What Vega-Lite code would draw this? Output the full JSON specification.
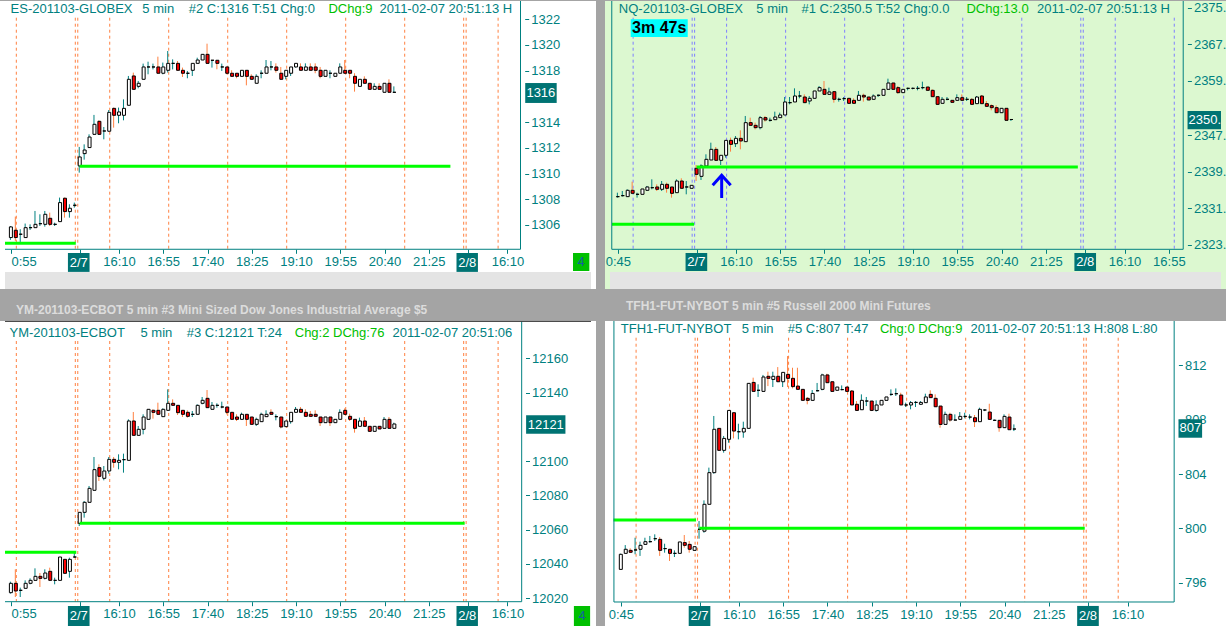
{
"$schema": "https://vega.github.io/schema/vega-lite/v6.json",
"background": "#a4a4a4",
"padding": 0,
"bounds": "flush",
"columns": 2,
"spacing": {"row": 32, "column": 9},
"config": {
  "view": {"stroke": null},
  "axis": {"labelFont": "Liberation Sans", "labelFontSize": 13, "labelColor": "#008080", "tickColor": "#008080", "tickSize": 4, "domain": false, "grid": false, "labelPadding": 2, "labelOverlap": false},
  "text": {"font": "Liberation Sans", "fontSize": 13},
  "title": {"font": "Liberation Sans"}
},
"datasets": {
  "hours": [{"i": -13}, {"i": -1}, {"i": -0.5}, {"i": 6}, {"i": 18}, {"i": 30}, {"i": 42}, {"i": 54}, {"i": 66}, {"i": 78}, {"i": 78.5}, {"i": 85}, {"i": 97}],
  "lv_tl": [{"a": 0, "b": 75.4, "p": 1310.57}, {"a": -15.2, "b": -0.8, "p": 1304.58}],
  "lv_tr": [{"a": 0, "b": 77.5, "p": 2340.09}, {"a": -17.2, "b": -0.5, "p": 2327.53}],
  "lv_bl": [{"a": 0, "b": 78.3, "p": 12063.73}, {"a": -15.2, "b": -0.7, "p": 12046.8}],
  "lv_br": [{"a": 0, "b": 78.3, "p": 800.02}, {"a": -17.5, "b": -0.7, "p": 800.63}],
  "tl": [
{"i":-14,"o":1305.02,"h":1305.92,"l":1304.84,"c":1305.85},
{"i":-13,"o":1305.59,"h":1306.65,"l":1304.76,"c":1305.02},
{"i":-12,"o":1305.28,"h":1305.67,"l":1304.68,"c":1305.28},
{"i":-11,"o":1305.02,"h":1306.11,"l":1305.02,"c":1305.79},
{"i":-10,"o":1305.79,"h":1306.05,"l":1305.61,"c":1305.79},
{"i":-9,"o":1305.79,"h":1307.09,"l":1305.79,"c":1306.05},
{"i":-8,"o":1306.1,"h":1306.83,"l":1305.92,"c":1306.1},
{"i":-7,"o":1306.05,"h":1307.09,"l":1305.87,"c":1306.83},
{"i":-6,"o":1306.52,"h":1306.96,"l":1305.92,"c":1306.05},
{"i":-5,"o":1306.05,"h":1306.18,"l":1305.92,"c":1306.05},
{"i":-4,"o":1306.26,"h":1308.13,"l":1306.26,"c":1307.74},
{"i":-3,"o":1308.08,"h":1308.13,"l":1306.57,"c":1307.04},
{"i":-2,"o":1307.04,"h":1307.61,"l":1306.57,"c":1307.3},
{"i":-1,"o":1307.53,"h":1307.74,"l":1307.35,"c":1307.53},
{"i":0,"o":1310.59,"h":1312.07,"l":1310.07,"c":1311.29},
{"i":1,"o":1311.55,"h":1312.27,"l":1311.08,"c":1311.83},
{"i":2,"o":1312.02,"h":1313.05,"l":1312.02,"c":1312.84},
{"i":3,"o":1313.05,"h":1314.56,"l":1313.0,"c":1313.83},
{"i":4,"o":1314.06,"h":1314.14,"l":1313.0,"c":1313.05},
{"i":5,"o":1313.31,"h":1313.62,"l":1312.66,"c":1313.31},
{"i":6,"o":1313.29,"h":1314.94,"l":1313.29,"c":1314.76},
{"i":7,"o":1315.07,"h":1315.13,"l":1313.57,"c":1314.53},
{"i":8,"o":1314.53,"h":1315.13,"l":1313.91,"c":1314.79},
{"i":9,"o":1314.53,"h":1315.77,"l":1314.14,"c":1315.07},
{"i":10,"o":1315.31,"h":1317.59,"l":1315.31,"c":1317.33},
{"i":11,"o":1317.59,"h":1317.85,"l":1316.55,"c":1316.55},
{"i":12,"o":1316.78,"h":1317.2,"l":1316.63,"c":1317.02},
{"i":13,"o":1317.33,"h":1318.55,"l":1317.33,"c":1318.29},
{"i":14,"o":1318.29,"h":1318.7,"l":1317.72,"c":1318.29},
{"i":15,"o":1318.29,"h":1318.55,"l":1318.1,"c":1318.29},
{"i":16,"o":1318.29,"h":1319.09,"l":1317.8,"c":1317.8},
{"i":17,"o":1317.8,"h":1318.63,"l":1317.72,"c":1318.29},
{"i":18,"o":1318.03,"h":1319.53,"l":1317.85,"c":1318.57},
{"i":19,"o":1318.57,"h":1318.88,"l":1318.1,"c":1318.57},
{"i":20,"o":1318.57,"h":1318.75,"l":1318.03,"c":1318.03},
{"i":21,"o":1318.03,"h":1318.24,"l":1317.51,"c":1317.8},
{"i":22,"o":1317.8,"h":1317.98,"l":1317.41,"c":1317.8},
{"i":23,"o":1318.03,"h":1318.57,"l":1317.59,"c":1318.57},
{"i":24,"o":1318.57,"h":1319.01,"l":1318.57,"c":1318.83},
{"i":25,"o":1318.83,"h":1319.27,"l":1318.83,"c":1319.27},
{"i":26,"o":1319.27,"h":1320.1,"l":1318.57,"c":1318.57},
{"i":27,"o":1318.81,"h":1318.81,"l":1318.24,"c":1318.81},
{"i":28,"o":1318.81,"h":1318.81,"l":1318.11,"c":1318.57},
{"i":29,"o":1318.29,"h":1318.55,"l":1317.98,"c":1318.29},
{"i":30,"o":1318.29,"h":1318.29,"l":1317.72,"c":1317.8},
{"i":31,"o":1317.8,"h":1318.03,"l":1317.56,"c":1317.56},
{"i":32,"o":1317.8,"h":1317.8,"l":1317.41,"c":1317.56},
{"i":33,"o":1317.56,"h":1318.03,"l":1317.56,"c":1318.03},
{"i":34,"o":1318.03,"h":1318.03,"l":1316.86,"c":1317.56},
{"i":35,"o":1317.56,"h":1317.72,"l":1317.33,"c":1317.33},
{"i":36,"o":1317.02,"h":1317.72,"l":1317.02,"c":1317.56},
{"i":37,"o":1317.8,"h":1318.03,"l":1317.41,"c":1317.8},
{"i":38,"o":1317.8,"h":1318.83,"l":1317.8,"c":1318.29},
{"i":39,"o":1318.29,"h":1318.75,"l":1318.03,"c":1318.29},
{"i":40,"o":1318.29,"h":1318.57,"l":1317.85,"c":1318.03},
{"i":41,"o":1317.8,"h":1318.29,"l":1317.33,"c":1317.33},
{"i":42,"o":1317.56,"h":1318.03,"l":1317.33,"c":1318.03},
{"i":43,"o":1317.8,"h":1318.29,"l":1317.59,"c":1318.29},
{"i":44,"o":1318.29,"h":1318.57,"l":1318.24,"c":1318.57},
{"i":45,"o":1318.29,"h":1318.57,"l":1318.03,"c":1318.03},
{"i":46,"o":1318.03,"h":1318.57,"l":1318.03,"c":1318.29},
{"i":47,"o":1318.29,"h":1318.57,"l":1318.03,"c":1318.03},
{"i":48,"o":1318.29,"h":1318.57,"l":1317.8,"c":1318.03},
{"i":49,"o":1318.03,"h":1318.29,"l":1317.41,"c":1317.56},
{"i":50,"o":1317.56,"h":1318.03,"l":1317.56,"c":1318.03},
{"i":51,"o":1317.8,"h":1318.03,"l":1317.41,"c":1317.8},
{"i":52,"o":1317.56,"h":1317.8,"l":1317.56,"c":1317.8},
{"i":53,"o":1317.8,"h":1318.57,"l":1317.8,"c":1318.29},
{"i":54,"o":1318.03,"h":1318.83,"l":1317.8,"c":1317.8},
{"i":55,"o":1318.03,"h":1318.03,"l":1317.41,"c":1317.8},
{"i":56,"o":1317.56,"h":1317.8,"l":1316.37,"c":1317.02},
{"i":57,"o":1316.78,"h":1317.33,"l":1316.78,"c":1317.33},
{"i":58,"o":1317.33,"h":1317.56,"l":1317.02,"c":1317.02},
{"i":59,"o":1317.02,"h":1317.02,"l":1316.55,"c":1316.55},
{"i":60,"o":1316.55,"h":1317.02,"l":1316.55,"c":1316.78},
{"i":61,"o":1316.78,"h":1317.02,"l":1316.55,"c":1316.55},
{"i":62,"o":1316.32,"h":1317.02,"l":1316.32,"c":1317.02},
{"i":63,"o":1317.02,"h":1317.33,"l":1316.32,"c":1316.32},
{"i":64,"o":1316.32,"h":1316.78,"l":1316.32,"c":1316.32}
  ],
  "tr": [
{"i":-16,"o":2333.59,"h":2334.46,"l":2333.37,"c":2333.59},
{"i":-15,"o":2333.81,"h":2334.83,"l":2333.6,"c":2333.81},
{"i":-14,"o":2333.59,"h":2335.2,"l":2333.59,"c":2334.98},
{"i":-13,"o":2334.98,"h":2336.87,"l":2334.32,"c":2334.32},
{"i":-12,"o":2334.1,"h":2334.46,"l":2333.37,"c":2334.1},
{"i":-11,"o":2334.1,"h":2335.27,"l":2334.1,"c":2335.27},
{"i":-10,"o":2334.98,"h":2335.93,"l":2334.83,"c":2335.71},
{"i":-9,"o":2335.56,"h":2337.39,"l":2335.2,"c":2335.56},
{"i":-8,"o":2335.71,"h":2336.29,"l":2334.83,"c":2335.2},
{"i":-7,"o":2335.2,"h":2337.02,"l":2334.83,"c":2336.29},
{"i":-6,"o":2336.29,"h":2336.66,"l":2334.46,"c":2335.42},
{"i":-5,"o":2335.71,"h":2335.71,"l":2333.37,"c":2334.32},
{"i":-4,"o":2334.46,"h":2337.39,"l":2334.46,"c":2337.02},
{"i":-3,"o":2337.02,"h":2337.61,"l":2335.42,"c":2335.42},
{"i":-2,"o":2335.71,"h":2337.02,"l":2334.1,"c":2335.71},
{"i":-1,"o":2335.42,"h":2336.07,"l":2335.42,"c":2336.07},
{"i":0,"o":2339.8,"h":2340.53,"l":2337.02,"c":2338.48},
{"i":1,"o":2338.04,"h":2340.67,"l":2337.24,"c":2340.31},
{"i":2,"o":2340.31,"h":2342.87,"l":2340.31,"c":2341.77},
{"i":3,"o":2341.62,"h":2345.42,"l":2341.62,"c":2343.96},
{"i":4,"o":2343.96,"h":2344.47,"l":2341.55,"c":2341.55},
{"i":5,"o":2341.55,"h":2342.65,"l":2340.53,"c":2342.65},
{"i":6,"o":2342.65,"h":2345.93,"l":2342.14,"c":2345.93},
{"i":7,"o":2345.93,"h":2346.52,"l":2343.45,"c":2345.06},
{"i":8,"o":2345.2,"h":2346.88,"l":2344.47,"c":2346.37},
{"i":9,"o":2346.37,"h":2348.13,"l":2343.96,"c":2345.79},
{"i":10,"o":2345.64,"h":2351.27,"l":2345.64,"c":2349.81},
{"i":11,"o":2349.81,"h":2350.9,"l":2349.22,"c":2349.22},
{"i":12,"o":2349.22,"h":2349.81,"l":2348.34,"c":2348.71},
{"i":13,"o":2348.71,"h":2351.27,"l":2348.34,"c":2350.9},
{"i":14,"o":2350.9,"h":2351.27,"l":2350.03,"c":2350.39},
{"i":15,"o":2350.32,"h":2350.9,"l":2350.03,"c":2350.32},
{"i":16,"o":2350.46,"h":2352.22,"l":2350.46,"c":2351.05},
{"i":17,"o":2350.9,"h":2352.0,"l":2350.9,"c":2351.49},
{"i":18,"o":2351.49,"h":2355.43,"l":2351.49,"c":2354.34},
{"i":19,"o":2354.19,"h":2355.43,"l":2353.82,"c":2354.19},
{"i":20,"o":2354.34,"h":2357.33,"l":2354.34,"c":2355.65},
{"i":21,"o":2355.65,"h":2356.75,"l":2355.14,"c":2355.65},
{"i":22,"o":2355.43,"h":2356.01,"l":2354.19,"c":2354.19},
{"i":23,"o":2354.55,"h":2355.65,"l":2353.82,"c":2355.14},
{"i":24,"o":2355.14,"h":2356.75,"l":2355.14,"c":2356.75},
{"i":25,"o":2356.75,"h":2357.84,"l":2356.75,"c":2357.48},
{"i":26,"o":2357.11,"h":2358.94,"l":2356.01,"c":2356.01},
{"i":27,"o":2356.01,"h":2357.48,"l":2356.01,"c":2356.53},
{"i":28,"o":2356.6,"h":2356.6,"l":2354.19,"c":2354.92},
{"i":29,"o":2354.92,"h":2355.28,"l":2354.41,"c":2354.92},
{"i":30,"o":2355.07,"h":2355.43,"l":2354.55,"c":2355.07},
{"i":31,"o":2355.14,"h":2355.14,"l":2354.04,"c":2354.04},
{"i":32,"o":2354.7,"h":2355.14,"l":2354.04,"c":2354.04},
{"i":33,"o":2354.7,"h":2356.75,"l":2354.7,"c":2355.8},
{"i":34,"o":2355.8,"h":2356.16,"l":2354.41,"c":2355.43},
{"i":35,"o":2355.43,"h":2355.43,"l":2354.77,"c":2354.77},
{"i":36,"o":2354.92,"h":2356.01,"l":2354.92,"c":2355.65},
{"i":37,"o":2355.8,"h":2356.01,"l":2355.43,"c":2355.8},
{"i":38,"o":2355.8,"h":2357.11,"l":2355.8,"c":2357.11},
{"i":39,"o":2357.11,"h":2359.45,"l":2357.11,"c":2358.5},
{"i":40,"o":2358.5,"h":2358.5,"l":2357.11,"c":2357.11},
{"i":41,"o":2357.48,"h":2357.84,"l":2356.16,"c":2356.38},
{"i":42,"o":2356.38,"h":2357.11,"l":2356.38,"c":2357.11},
{"i":43,"o":2357.33,"h":2357.48,"l":2356.89,"c":2357.33},
{"i":44,"o":2357.33,"h":2357.48,"l":2357.11,"c":2357.33},
{"i":45,"o":2357.33,"h":2357.84,"l":2356.89,"c":2357.33},
{"i":46,"o":2357.48,"h":2358.79,"l":2357.11,"c":2357.48},
{"i":47,"o":2357.62,"h":2357.62,"l":2356.89,"c":2356.89},
{"i":48,"o":2356.89,"h":2357.11,"l":2355.5,"c":2355.5},
{"i":49,"o":2355.5,"h":2355.5,"l":2353.68,"c":2353.82},
{"i":50,"o":2354.04,"h":2355.43,"l":2354.04,"c":2354.92},
{"i":51,"o":2354.92,"h":2355.43,"l":2354.7,"c":2354.92},
{"i":52,"o":2354.7,"h":2354.7,"l":2354.26,"c":2354.26},
{"i":53,"o":2354.7,"h":2356.01,"l":2354.7,"c":2355.28},
{"i":54,"o":2355.28,"h":2356.01,"l":2354.7,"c":2354.7},
{"i":55,"o":2354.92,"h":2355.43,"l":2354.55,"c":2354.92},
{"i":56,"o":2354.92,"h":2355.14,"l":2353.82,"c":2353.82},
{"i":57,"o":2353.97,"h":2355.65,"l":2353.97,"c":2355.43},
{"i":58,"o":2355.65,"h":2355.87,"l":2353.97,"c":2353.97},
{"i":59,"o":2353.97,"h":2354.55,"l":2353.38,"c":2353.38},
{"i":60,"o":2353.53,"h":2353.82,"l":2352.51,"c":2353.09},
{"i":61,"o":2353.09,"h":2353.6,"l":2351.99,"c":2351.99},
{"i":62,"o":2351.99,"h":2352.95,"l":2351.99,"c":2352.95},
{"i":63,"o":2352.95,"h":2352.95,"l":2350.32,"c":2350.32},
{"i":64,"o":2350.5,"h":2350.53,"l":2350.17,"c":2350.5}
  ],
  "bl": [
{"i":-14,"o":12023.26,"h":12029.68,"l":12022.68,"c":12028.71},
{"i":-13,"o":12028.71,"h":12036.88,"l":12020.73,"c":12024.24},
{"i":-12,"o":12024.63,"h":12026.2,"l":12020.73,"c":12024.63},
{"i":-11,"o":12025.79,"h":12030.45,"l":12025.79,"c":12028.71},
{"i":-10,"o":12028.71,"h":12031.62,"l":12028.12,"c":12030.45},
{"i":-9,"o":12030.45,"h":12037.46,"l":12030.45,"c":12032.79},
{"i":-8,"o":12032.79,"h":12034.73,"l":12026.57,"c":12031.62},
{"i":-7,"o":12031.62,"h":12036.88,"l":12031.0,"c":12034.73},
{"i":-6,"o":12035.71,"h":12037.85,"l":12030.45,"c":12030.45},
{"i":-5,"o":12030.45,"h":12032.0,"l":12028.12,"c":12030.45},
{"i":-4,"o":12030.45,"h":12044.07,"l":12030.45,"c":12044.07},
{"i":-3,"o":12042.71,"h":12042.71,"l":12034.54,"c":12034.54},
{"i":-2,"o":12035.71,"h":12043.68,"l":12032.01,"c":12042.71},
{"i":-1,"o":12044.07,"h":12046.6,"l":12043.7,"c":12044.07},
{"i":0,"o":12063.71,"h":12070.13,"l":12062.16,"c":12070.13},
{"i":1,"o":12070.13,"h":12076.75,"l":12067.02,"c":12075.97},
{"i":2,"o":12075.97,"h":12085.5,"l":12075.97,"c":12084.13},
{"i":3,"o":12082.97,"h":12102.42,"l":12082.97,"c":12095.03},
{"i":4,"o":12096.19,"h":12098.14,"l":12088.41,"c":12091.14},
{"i":5,"o":12089.97,"h":12097.16,"l":12088.8,"c":12094.25},
{"i":6,"o":12094.25,"h":12102.42,"l":12092.69,"c":12101.05},
{"i":7,"o":12101.05,"h":12102.42,"l":12096.19,"c":12099.3},
{"i":8,"o":12099.3,"h":12103.97,"l":12095.22,"c":12100.47},
{"i":9,"o":12100.86,"h":12104.36,"l":12093.27,"c":12100.86},
{"i":10,"o":12100.47,"h":12124.39,"l":12100.47,"c":12123.42},
{"i":11,"o":12123.42,"h":12128.67,"l":12115.05,"c":12115.05},
{"i":12,"o":12115.05,"h":12120.5,"l":12115.05,"c":12118.56},
{"i":13,"o":12118.56,"h":12127.31,"l":12115.64,"c":12125.75},
{"i":14,"o":12124.39,"h":12130.23,"l":12124.39,"c":12130.23},
{"i":15,"o":12129.64,"h":12130.23,"l":12124.78,"c":12128.48},
{"i":16,"o":12129.64,"h":12134.11,"l":12127.31,"c":12127.31},
{"i":17,"o":12125.95,"h":12130.81,"l":12125.95,"c":12130.23},
{"i":18,"o":12129.64,"h":12141.89,"l":12129.64,"c":12133.73},
{"i":19,"o":12133.73,"h":12136.06,"l":12132.56,"c":12132.56},
{"i":20,"o":12132.56,"h":12132.56,"l":12126.92,"c":12128.28},
{"i":21,"o":12129.64,"h":12129.64,"l":12125.75,"c":12127.31},
{"i":22,"o":12128.48,"h":12129.64,"l":12125.36,"c":12126.14},
{"i":23,"o":12127.31,"h":12129.25,"l":12125.75,"c":12127.31},
{"i":24,"o":12127.31,"h":12133.14,"l":12127.31,"c":12132.56},
{"i":25,"o":12133.73,"h":12137.42,"l":12133.14,"c":12135.48},
{"i":26,"o":12136.64,"h":12141.5,"l":12131.2,"c":12131.2},
{"i":27,"o":12130.23,"h":12134.5,"l":12130.23,"c":12132.56},
{"i":28,"o":12132.56,"h":12133.73,"l":12131.2,"c":12132.56},
{"i":29,"o":12131.59,"h":12134.7,"l":12130.81,"c":12131.59},
{"i":30,"o":12131.59,"h":12131.59,"l":12127.31,"c":12128.48},
{"i":31,"o":12128.48,"h":12128.48,"l":12124.39,"c":12124.39},
{"i":32,"o":12125.75,"h":12127.31,"l":12123.42,"c":12124.39},
{"i":33,"o":12124.39,"h":12128.28,"l":12124.39,"c":12127.31},
{"i":34,"o":12127.31,"h":12127.31,"l":12120.5,"c":12124.39},
{"i":35,"o":12125.75,"h":12125.75,"l":12121.47,"c":12121.47},
{"i":36,"o":12121.47,"h":12125.36,"l":12120.5,"c":12124.39},
{"i":37,"o":12123.03,"h":12128.28,"l":12123.03,"c":12127.31},
{"i":38,"o":12125.95,"h":12129.64,"l":12125.95,"c":12127.31},
{"i":39,"o":12128.48,"h":12130.23,"l":12127.31,"c":12127.31},
{"i":40,"o":12125.95,"h":12127.31,"l":12123.81,"c":12125.95},
{"i":41,"o":12125.75,"h":12125.75,"l":12119.14,"c":12119.92},
{"i":42,"o":12120.11,"h":12123.42,"l":12120.11,"c":12123.42},
{"i":43,"o":12123.03,"h":12128.48,"l":12121.86,"c":12128.48},
{"i":44,"o":12128.48,"h":12131.59,"l":12128.48,"c":12130.23},
{"i":45,"o":12130.23,"h":12131.59,"l":12128.48,"c":12128.48},
{"i":46,"o":12128.48,"h":12130.23,"l":12126.14,"c":12126.14},
{"i":47,"o":12127.31,"h":12129.25,"l":12126.14,"c":12126.14},
{"i":48,"o":12127.31,"h":12129.64,"l":12126.14,"c":12126.14},
{"i":49,"o":12125.75,"h":12125.75,"l":12120.5,"c":12122.45},
{"i":50,"o":12122.45,"h":12125.75,"l":12122.45,"c":12125.75},
{"i":51,"o":12125.75,"h":12125.75,"l":12120.5,"c":12122.45},
{"i":52,"o":12122.45,"h":12124.39,"l":12122.45,"c":12124.39},
{"i":53,"o":12124.39,"h":12130.23,"l":12124.39,"c":12128.48},
{"i":54,"o":12129.64,"h":12130.81,"l":12127.31,"c":12127.31},
{"i":55,"o":12126.14,"h":12127.7,"l":12123.42,"c":12124.39},
{"i":56,"o":12124.39,"h":12124.39,"l":12116.61,"c":12119.14},
{"i":57,"o":12120.31,"h":12125.36,"l":12120.31,"c":12123.42},
{"i":58,"o":12123.42,"h":12125.75,"l":12120.31,"c":12120.31},
{"i":59,"o":12120.31,"h":12120.31,"l":12117.39,"c":12117.39},
{"i":60,"o":12117.39,"h":12120.31,"l":12117.39,"c":12120.31},
{"i":61,"o":12120.31,"h":12120.31,"l":12118.75,"c":12118.75},
{"i":62,"o":12119.14,"h":12125.75,"l":12119.14,"c":12124.39},
{"i":63,"o":12124.39,"h":12125.75,"l":12119.14,"c":12119.14},
{"i":64,"o":12119.14,"h":12122.45,"l":12119.14,"c":12121.67}
  ],
  "br": [
{"i":-16,"o":796.99,"h":798.15,"l":796.99,"c":798.1},
{"i":-15,"o":798.17,"h":798.78,"l":798.17,"c":798.47},
{"i":-14,"o":798.39,"h":798.54,"l":798.2,"c":798.25},
{"i":-13,"o":798.42,"h":799.32,"l":798.1,"c":798.42},
{"i":-12,"o":798.47,"h":799.03,"l":797.98,"c":798.76},
{"i":-11,"o":798.83,"h":799.32,"l":798.83,"c":799.03},
{"i":-10,"o":799.03,"h":799.45,"l":798.96,"c":799.03},
{"i":-9,"o":799.25,"h":799.57,"l":799.08,"c":799.25},
{"i":-8,"o":799.2,"h":799.37,"l":797.98,"c":798.39},
{"i":-7,"o":798.52,"h":798.88,"l":798.22,"c":798.52},
{"i":-6,"o":798.47,"h":798.47,"l":797.61,"c":798.17},
{"i":-5,"o":798.17,"h":798.39,"l":797.9,"c":798.17},
{"i":-4,"o":798.17,"h":799.01,"l":798.17,"c":799.01},
{"i":-3,"o":798.96,"h":799.52,"l":798.59,"c":798.76},
{"i":-2,"o":798.83,"h":799.08,"l":798.22,"c":798.47},
{"i":-1,"o":798.39,"h":798.66,"l":798.39,"c":798.66},
{"i":0,"o":799.94,"h":800.55,"l":799.25,"c":799.94},
{"i":1,"o":799.8,"h":802.07,"l":799.69,"c":801.78},
{"i":2,"o":801.78,"h":804.48,"l":801.78,"c":804.11},
{"i":3,"o":804.11,"h":808.28,"l":804.03,"c":807.3},
{"i":4,"o":807.37,"h":807.37,"l":805.75,"c":805.75},
{"i":5,"o":805.75,"h":806.81,"l":805.58,"c":806.63},
{"i":6,"o":806.56,"h":808.69,"l":806.31,"c":808.69},
{"i":7,"o":808.52,"h":808.52,"l":806.63,"c":807.17},
{"i":8,"o":807.12,"h":807.71,"l":806.56,"c":807.12},
{"i":9,"o":807.1,"h":807.86,"l":806.68,"c":807.37},
{"i":10,"o":807.37,"h":810.68,"l":807.37,"c":810.68},
{"i":11,"o":810.75,"h":811.1,"l":810.09,"c":810.09},
{"i":12,"o":810.17,"h":810.61,"l":809.68,"c":810.17},
{"i":13,"o":810.09,"h":811.3,"l":810.09,"c":811.15},
{"i":14,"o":811.2,"h":811.54,"l":810.48,"c":811.05},
{"i":15,"o":810.97,"h":811.54,"l":810.41,"c":811.2},
{"i":16,"o":811.2,"h":811.88,"l":810.8,"c":810.8},
{"i":17,"o":810.8,"h":811.49,"l":810.41,"c":811.49},
{"i":18,"o":811.34,"h":812.69,"l":810.41,"c":811.05},
{"i":19,"o":811.05,"h":811.83,"l":810.31,"c":810.44},
{"i":20,"o":810.48,"h":811.83,"l":810.24,"c":810.24},
{"i":21,"o":810.24,"h":810.24,"l":809.43,"c":809.43},
{"i":22,"o":809.58,"h":809.68,"l":809.14,"c":809.43},
{"i":23,"o":809.43,"h":810.19,"l":809.43,"c":809.94},
{"i":24,"o":810.14,"h":810.71,"l":810.07,"c":810.14},
{"i":25,"o":810.24,"h":811.39,"l":810.17,"c":811.3},
{"i":26,"o":811.3,"h":811.39,"l":810.73,"c":810.73},
{"i":27,"o":810.8,"h":810.8,"l":810.09,"c":810.09},
{"i":28,"o":810.17,"h":810.41,"l":810.17,"c":810.41},
{"i":29,"o":810.22,"h":810.53,"l":810.17,"c":810.22},
{"i":30,"o":810.41,"h":810.41,"l":810.09,"c":810.09},
{"i":31,"o":810.12,"h":810.17,"l":809.09,"c":809.09},
{"i":32,"o":809.14,"h":809.38,"l":808.69,"c":808.69},
{"i":33,"o":808.74,"h":809.87,"l":808.74,"c":809.43},
{"i":34,"o":809.38,"h":809.68,"l":809.01,"c":809.38},
{"i":35,"o":809.38,"h":809.38,"l":808.64,"c":808.69},
{"i":36,"o":808.69,"h":809.43,"l":808.6,"c":809.09},
{"i":37,"o":809.09,"h":809.43,"l":809.09,"c":809.43},
{"i":38,"o":809.43,"h":809.68,"l":809.43,"c":809.68},
{"i":39,"o":809.87,"h":810.24,"l":809.75,"c":809.87},
{"i":40,"o":809.92,"h":810.31,"l":809.75,"c":809.92},
{"i":41,"o":809.82,"h":809.99,"l":809.09,"c":809.09},
{"i":42,"o":809.09,"h":809.26,"l":808.94,"c":809.09},
{"i":43,"o":809.09,"h":809.38,"l":808.77,"c":809.26},
{"i":44,"o":809.28,"h":809.38,"l":808.94,"c":809.28},
{"i":45,"o":809.14,"h":809.38,"l":809.09,"c":809.28},
{"i":46,"o":809.26,"h":809.92,"l":809.26,"c":809.68},
{"i":47,"o":809.87,"h":810.17,"l":809.63,"c":809.63},
{"i":48,"o":809.58,"h":809.87,"l":808.96,"c":808.96},
{"i":49,"o":809.01,"h":809.01,"l":807.42,"c":807.66},
{"i":50,"o":807.66,"h":808.6,"l":807.66,"c":808.4},
{"i":51,"o":808.4,"h":808.52,"l":807.86,"c":807.98},
{"i":52,"o":807.98,"h":808.4,"l":807.98,"c":807.98},
{"i":53,"o":808.03,"h":808.57,"l":808.03,"c":808.25},
{"i":54,"o":808.25,"h":808.52,"l":808.11,"c":808.25},
{"i":55,"o":808.2,"h":808.4,"l":808.03,"c":808.2},
{"i":56,"o":808.15,"h":808.35,"l":807.47,"c":807.86},
{"i":57,"o":807.86,"h":808.89,"l":807.86,"c":808.77},
{"i":58,"o":808.72,"h":808.77,"l":808.64,"c":808.72},
{"i":59,"o":808.57,"h":809.18,"l":808.03,"c":808.03},
{"i":60,"o":807.96,"h":808.03,"l":807.91,"c":807.96},
{"i":61,"o":807.96,"h":807.96,"l":807.12,"c":807.42},
{"i":62,"o":807.42,"h":808.4,"l":807.42,"c":808.25},
{"i":63,"o":808.2,"h":808.45,"l":807.27,"c":807.27},
{"i":64,"o":807.32,"h":807.66,"l":807.17,"c":807.32}
  ]
},
"concat": [
{
 "width": 596, "height": 288,
 "view": {"fill": "#ffffff", "stroke": null},
 "layer": [
  {"data": {"name": "hours"}, "transform": [{"filter": "datum.i < 90"}],
   "mark": {"type": "rule", "color": "#ff8040", "strokeDash": [3, 3], "strokeWidth": 1, "xOffset": 0.5},
   "encoding": {
    "x": {"field": "i", "type": "quantitative", "scale": {"domain": [-15.2, 104.0], "nice": false, "zero": false},
          "axis": {"orient": "bottom", "offset": -39.7, "title": null, "labelFlush": 12, "labelOverlap": false,
                   "values": [-14, 0, 8, 17, 26, 35, 44, 53, 62, 71, 79, 87],
                   "labelExpr": "['0:55','','16:10','16:55','17:40','18:25','19:10','19:55','20:40','21:25','','16:10'][indexof([-14,0,8,17,26,35,44,53,62,71,79,87], datum.value)]"}},
    "y": {"datum": 1322.12, "type": "quantitative", "scale": {"domain": [1301.02, 1323.42], "nice": false, "zero": false},
          "axis": {"orient": "right", "offset": -71.3, "title": null, "format": "d", "labelOverlap": false, "values": [1306, 1308, 1310, 1312, 1314, 1318, 1320, 1322]}},
    "y2": {"datum": 1304.11}}},
  {"data": {"name": "tl"}, "mark": {"type": "rule", "strokeWidth": 1, "xOffset": -0.5},
   "encoding": {"x": {"field": "i", "type": "quantitative"}, "y": {"field": "l", "type": "quantitative"}, "y2": {"field": "h"},
    "color": {"condition": {"test": "datum.c < datum.o", "value": "#ff8040"}, "value": "#008080"}}},
  {"data": {"name": "tl"}, "mark": {"type": "bar", "size": 3, "stroke": "#000000", "strokeWidth": 1},
   "encoding": {"x": {"field": "i", "type": "quantitative"}, "y": {"field": "o", "type": "quantitative"}, "y2": {"field": "c"},
    "fill": {"condition": {"test": "datum.c < datum.o", "value": "#ff0000"}, "value": "#ffffff"}}},
  {"data": {"name": "lv_tl"}, "mark": {"type": "rule", "color": "#00ff00", "strokeWidth": 3},
   "encoding": {"x": {"field": "a", "type": "quantitative"}, "x2": {"field": "b"}, "y": {"field": "p", "type": "quantitative"}}},
  {"data": {"values": [{}]}, "mark": {"type": "rule", "color": "#008080"}, "encoding": {"x": {"datum": 89.66}, "y": {"datum": 1304.11}, "y2": {"datum": 1323.42}}},
  {"data": {"values": [{}]}, "mark": {"type": "rule", "color": "#008080"}, "encoding": {"x": {"datum": -15.2}, "x2": {"datum": 89.66}, "y": {"datum": 1304.11}}},
  {"data": {"values": [{}]}, "mark": {"type": "rect", "color": "#e4e4e4"}, "encoding": {"x": {"datum": -15.2}, "x2": {"datum": 104.0}, "y": {"datum": 1302.35}, "y2": {"datum": 1301.02}}},
  {"data": {"values": [{}]}, "mark": {"type": "text", "align": "left", "color": "#008080"}, "encoding": {"x": {"datum": -14.06}, "y": {"datum": 1322.77}, "text": {"value": "ES-201103-GLOBEX"}}},
  {"data": {"values": [{}]}, "mark": {"type": "text", "align": "left", "color": "#008080"}, "encoding": {"x": {"datum": 12.74}, "y": {"datum": 1322.77}, "text": {"value": "5 min"}}},
  {"data": {"values": [{}]}, "mark": {"type": "text", "align": "left", "color": "#008080"}, "encoding": {"x": {"datum": 22.16}, "y": {"datum": 1322.77}, "text": {"value": "#2 C:1316 T:51 Chg:0"}}},
  {"data": {"values": [{}]}, "mark": {"type": "text", "align": "left", "color": "#00c000"}, "encoding": {"x": {"datum": 50.6}, "y": {"datum": 1322.77}, "text": {"value": "DChg:9"}}},
  {"data": {"values": [{}]}, "mark": {"type": "text", "align": "left", "color": "#008080"}, "encoding": {"x": {"datum": 60.96}, "y": {"datum": 1322.77}, "text": {"value": "2011-02-07 20:51:13 H"}}},
  {"data": {"values": [{}]}, "mark": {"type": "rect", "color": "#007373"}, "encoding": {"x": {"datum": 90.62}, "x2": {"datum": 97.02}, "y": {"datum": 1317.04}, "y2": {"datum": 1315.49}}},
  {"data": {"values": [{}]}, "mark": {"type": "text", "color": "#ffffff"}, "encoding": {"x": {"datum": 93.8}, "y": {"datum": 1316.27}, "text": {"value": "1316"}}},
  {"data": {"values": [{}]}, "mark": {"type": "rect", "color": "#007373"}, "encoding": {"x": {"datum": -2.4}, "x2": {"datum": 2.0}, "y": {"datum": 1303.82}, "y2": {"datum": 1302.35}}},
  {"data": {"values": [{}]}, "mark": {"type": "text", "color": "#ffffff"}, "encoding": {"x": {"datum": -0.2}, "y": {"datum": 1303.05}, "text": {"value": "2/7"}}},
  {"data": {"values": [{}]}, "mark": {"type": "rect", "color": "#007373"}, "encoding": {"x": {"datum": 76.64}, "x2": {"datum": 81.0}, "y": {"datum": 1303.82}, "y2": {"datum": 1302.35}}},
  {"data": {"values": [{}]}, "mark": {"type": "text", "color": "#ffffff"}, "encoding": {"x": {"datum": 78.82}, "y": {"datum": 1303.05}, "text": {"value": "2/8"}}},
  {"data": {"values": [{}]}, "mark": {"type": "rect", "color": "#00c000"}, "encoding": {"x": {"datum": 100.34}, "x2": {"datum": 103.66}, "y": {"datum": 1303.82}, "y2": {"datum": 1302.42}}},
  {"data": {"values": [{}]}, "mark": {"type": "text", "color": "#1060a0"}, "encoding": {"x": {"datum": 102.0}, "y": {"datum": 1303.12}, "text": {"value": "4"}}}
 ]
},
{
 "width": 621, "height": 288,
 "view": {"fill": "#dcf8d0", "stroke": null},
 "layer": [
  {"data": {"name": "hours"},
   "mark": {"type": "rule", "color": "#7f7fff", "strokeDash": [3, 3], "strokeWidth": 1, "xOffset": 0.5},
   "encoding": {
    "x": {"field": "i", "type": "quantitative", "scale": {"domain": [-17.6, 106.6], "nice": false, "zero": false},
          "axis": {"orient": "bottom", "offset": -39.7, "title": null, "labelFlush": 12, "labelOverlap": false,
                   "values": [-16, 0, 8, 17, 26, 35, 44, 53, 62, 71, 79, 87, 96],
                   "labelExpr": "['0:45','','16:10','16:55','17:40','18:25','19:10','19:55','20:40','21:25','','16:10','16:55'][indexof([-16,0,8,17,26,35,44,53,62,71,79,87,96], datum.value)]"}},
    "y": {"datum": 2372.81, "type": "quantitative", "scale": {"domain": [2313.35, 2376.47], "nice": false, "zero": false},
          "axis": {"orient": "right", "offset": -38.6, "title": null, "labelOverlap": false, "values": [2323, 2327, 2331, 2335, 2339, 2343, 2347, 2355, 2359, 2363, 2367, 2371, 2375],
                   "labelExpr": "datum.value + '.'"}},
    "y2": {"datum": 2322.05}}},
  {"data": {"name": "tr"}, "mark": {"type": "rule", "strokeWidth": 1, "xOffset": -0.5},
   "encoding": {"x": {"field": "i", "type": "quantitative"}, "y": {"field": "l", "type": "quantitative"}, "y2": {"field": "h"},
    "color": {"condition": {"test": "datum.c < datum.o", "value": "#ff8040"}, "value": "#008080"}}},
  {"data": {"name": "tr"}, "mark": {"type": "bar", "size": 3, "stroke": "#000000", "strokeWidth": 1},
   "encoding": {"x": {"field": "i", "type": "quantitative"}, "y": {"field": "o", "type": "quantitative"}, "y2": {"field": "c"},
    "fill": {"condition": {"test": "datum.c < datum.o", "value": "#ff0000"}, "value": "#ffffff"}}},
  {"data": {"name": "lv_tr"}, "mark": {"type": "rule", "color": "#00ff00", "strokeWidth": 3},
   "encoding": {"x": {"field": "a", "type": "quantitative"}, "x2": {"field": "b"}, "y": {"field": "p", "type": "quantitative"}}},
  {"data": {"values": [{}]}, "mark": {"type": "rule", "color": "#008080"}, "encoding": {"x": {"datum": 98.92}, "y": {"datum": 2322.05}, "y2": {"datum": 2376.47}}},
  {"data": {"values": [{}]}, "mark": {"type": "rule", "color": "#008080"}, "encoding": {"x": {"datum": -17.24}, "y": {"datum": 2322.05}, "y2": {"datum": 2376.47}}},
  {"data": {"values": [{}]}, "mark": {"type": "rule", "color": "#008080"}, "encoding": {"x": {"datum": -17.24}, "x2": {"datum": 98.92}, "y": {"datum": 2322.05}}},
  {"data": {"values": [{}]}, "mark": {"type": "rect", "color": "#e4e4e4"}, "encoding": {"x": {"datum": -17.6}, "x2": {"datum": 106.6}, "y": {"datum": 2317.08}, "y2": {"datum": 2313.35}}},
  {"data": {"values": [{}]}, "mark": {"type": "rule", "color": "#0000ff", "strokeWidth": 3}, "encoding": {"x": {"datum": 5.1}, "y": {"datum": 2337.9}, "y2": {"datum": 2333.3}}},
  {"data": {"values": [{}]}, "mark": {"type": "point", "shape": "M-1,1.1L0,0L1,1.1", "filled": false, "stroke": "#0000ff", "strokeWidth": 3, "size": 324, "opacity": 1}, "encoding": {"x": {"datum": 5.1}, "y": {"datum": 2338.27}}},
  {"data": {"values": [{}]}, "mark": {"type": "text", "align": "left", "color": "#008080"}, "encoding": {"x": {"datum": -15.8}, "y": {"datum": 2374.65}, "text": {"value": "NQ-201103-GLOBEX"}}},
  {"data": {"values": [{}]}, "mark": {"type": "text", "align": "left", "color": "#008080"}, "encoding": {"x": {"datum": 12.14}, "y": {"datum": 2374.65}, "text": {"value": "5 min"}}},
  {"data": {"values": [{}]}, "mark": {"type": "text", "align": "left", "color": "#008080"}, "encoding": {"x": {"datum": 21.32}, "y": {"datum": 2374.65}, "text": {"value": "#1 C:2350.5 T:52 Chg:0.0"}}},
  {"data": {"values": [{}]}, "mark": {"type": "text", "align": "left", "color": "#00c000"}, "encoding": {"x": {"datum": 54.86}, "y": {"datum": 2374.65}, "text": {"value": "DChg:13.0"}}},
  {"data": {"values": [{}]}, "mark": {"type": "text", "align": "left", "color": "#008080"}, "encoding": {"x": {"datum": 69.22}, "y": {"datum": 2374.65}, "text": {"value": "2011-02-07 20:51:13 H"}}},
  {"data": {"values": [{}]}, "mark": {"type": "rect", "color": "#00ffff"}, "encoding": {"x": {"datum": -13.4}, "x2": {"datum": -1.8}, "y": {"datum": 2372.46}, "y2": {"datum": 2368.58}}},
  {"data": {"values": [{}]}, "mark": {"type": "text", "color": "#000000", "fontSize": 16, "fontWeight": "bold"}, "encoding": {"x": {"datum": -7.6}, "y": {"datum": 2370.55}, "text": {"value": "3m 47s"}}},
  {"data": {"values": [{}]}, "mark": {"type": "rect", "color": "#007373"}, "encoding": {"x": {"datum": 99.8}, "x2": {"datum": 106.6}, "y": {"datum": 2352.36}, "y2": {"datum": 2348.35}}},
  {"data": {"values": [{}]}, "mark": {"type": "text", "align": "left", "color": "#ffffff"}, "encoding": {"x": {"datum": 100.0}, "y": {"datum": 2350.39}, "text": {"value": "2350."}}},
  {"data": {"values": [{}]}, "mark": {"type": "rect", "color": "#007373"}, "encoding": {"x": {"datum": -2.24}, "x2": {"datum": 2.16}, "y": {"datum": 2321.24}, "y2": {"datum": 2317.3}}},
  {"data": {"values": [{}]}, "mark": {"type": "text", "color": "#ffffff"}, "encoding": {"x": {"datum": -0.04}, "y": {"datum": 2319.27}, "text": {"value": "2/7"}}},
  {"data": {"values": [{}]}, "mark": {"type": "rect", "color": "#007373"}, "encoding": {"x": {"datum": 76.8}, "x2": {"datum": 81.2}, "y": {"datum": 2321.24}, "y2": {"datum": 2317.3}}},
  {"data": {"values": [{}]}, "mark": {"type": "text", "color": "#ffffff"}, "encoding": {"x": {"datum": 79.0}, "y": {"datum": 2319.27}, "text": {"value": "2/8"}}}
 ]
},
{
 "width": 596, "height": 306,
 "view": {"fill": "#ffffff", "stroke": null},
 "title": {"text": "YM-201103-ECBOT  5 min  #3 Mini Sized Dow Jones Industrial Average $5", "anchor": "start", "dx": 16, "dy": 12, "offset": 7, "baseline": "alphabetic", "fontSize": 12, "fontWeight": "bold", "color": "#dcdcdc"},
 "layer": [
  {"data": {"name": "hours"}, "transform": [{"filter": "datum.i < 90"}],
   "mark": {"type": "rule", "color": "#ff8040", "strokeDash": [3, 3], "strokeWidth": 1, "xOffset": 0.5},
   "encoding": {
    "x": {"field": "i", "type": "quantitative", "scale": {"domain": [-15.2, 104.0], "nice": false, "zero": false},
          "axis": {"orient": "bottom", "offset": -25.3, "title": null, "labelFlush": 12, "labelOverlap": false,
                   "values": [-14, 0, 8, 17, 26, 35, 44, 53, 62, 71, 79, 87],
                   "labelExpr": "['0:55','','16:10','16:55','17:40','18:25','19:10','19:55','20:40','21:25','','16:10'][indexof([-14,0,8,17,26,35,44,53,62,71,79,87], datum.value)]"}},
    "y": {"datum": 12170.09, "type": "quantitative", "scale": {"domain": [12003.23, 12181.76], "nice": false, "zero": false},
          "axis": {"orient": "right", "offset": -70.5, "title": null, "format": "d", "labelOverlap": false, "values": [12020, 12040, 12060, 12080, 12100, 12140, 12160]}},
    "y2": {"datum": 12017.99}}},
  {"data": {"name": "bl"}, "mark": {"type": "rule", "strokeWidth": 1, "xOffset": -0.5},
   "encoding": {"x": {"field": "i", "type": "quantitative"}, "y": {"field": "l", "type": "quantitative"}, "y2": {"field": "h"},
    "color": {"condition": {"test": "datum.c < datum.o", "value": "#ff8040"}, "value": "#008080"}}},
  {"data": {"name": "bl"}, "mark": {"type": "bar", "size": 3, "stroke": "#000000", "strokeWidth": 1},
   "encoding": {"x": {"field": "i", "type": "quantitative"}, "y": {"field": "o", "type": "quantitative"}, "y2": {"field": "c"},
    "fill": {"condition": {"test": "datum.c < datum.o", "value": "#ff0000"}, "value": "#ffffff"}}},
  {"data": {"name": "lv_bl"}, "mark": {"type": "rule", "color": "#00ff00", "strokeWidth": 3},
   "encoding": {"x": {"field": "a", "type": "quantitative"}, "x2": {"field": "b"}, "y": {"field": "p", "type": "quantitative"}}},
  {"data": {"values": [{}]}, "mark": {"type": "rule", "color": "#008080"}, "encoding": {"x": {"datum": 89.9}, "y": {"datum": 12017.99}, "y2": {"datum": 12181.76}}},
  {"data": {"values": [{}]}, "mark": {"type": "rule", "color": "#008080"}, "encoding": {"x": {"datum": -15.2}, "x2": {"datum": 89.9}, "y": {"datum": 12017.99}}},
  {"data": {"values": [{}]}, "mark": {"type": "rule", "color": "#404040"}, "encoding": {"x": {"datum": -15.2}, "x2": {"datum": 104.0}, "y": {"datum": 12181.5}}},
  {"data": {"values": [{}]}, "mark": {"type": "text", "align": "left", "color": "#008080"}, "encoding": {"x": {"datum": -14.28}, "y": {"datum": 12174.93}, "text": {"value": "YM-201103-ECBOT"}}},
  {"data": {"values": [{}]}, "mark": {"type": "text", "align": "left", "color": "#008080"}, "encoding": {"x": {"datum": 12.36}, "y": {"datum": 12174.93}, "text": {"value": "5 min"}}},
  {"data": {"values": [{}]}, "mark": {"type": "text", "align": "left", "color": "#008080"}, "encoding": {"x": {"datum": 21.76}, "y": {"datum": 12174.93}, "text": {"value": "#3 C:12121 T:24"}}},
  {"data": {"values": [{}]}, "mark": {"type": "text", "align": "left", "color": "#00c000"}, "encoding": {"x": {"datum": 43.74}, "y": {"datum": 12174.93}, "text": {"value": "Chg:2 DChg:76"}}},
  {"data": {"values": [{}]}, "mark": {"type": "text", "align": "left", "color": "#008080"}, "encoding": {"x": {"datum": 63.64}, "y": {"datum": 12174.93}, "text": {"value": "2011-02-07 20:51:06"}}},
  {"data": {"values": [{}]}, "mark": {"type": "rect", "color": "#007373"}, "encoding": {"x": {"datum": 90.8}, "x2": {"datum": 98.8}, "y": {"datum": 12126.74}, "y2": {"datum": 12116.01}}},
  {"data": {"values": [{}]}, "mark": {"type": "text", "color": "#ffffff"}, "encoding": {"x": {"datum": 94.8}, "y": {"datum": 12121.37}, "text": {"value": "12121"}}},
  {"data": {"values": [{}]}, "mark": {"type": "rect", "color": "#007373"}, "encoding": {"x": {"datum": -2.4}, "x2": {"datum": 2.0}, "y": {"datum": 12015.48}, "y2": {"datum": 12003.23}}},
  {"data": {"values": [{}]}, "mark": {"type": "text", "color": "#ffffff"}, "encoding": {"x": {"datum": -0.2}, "y": {"datum": 12009.65}, "text": {"value": "2/7"}}},
  {"data": {"values": [{}]}, "mark": {"type": "rect", "color": "#007373"}, "encoding": {"x": {"datum": 76.64}, "x2": {"datum": 81.0}, "y": {"datum": 12015.48}, "y2": {"datum": 12003.23}}},
  {"data": {"values": [{}]}, "mark": {"type": "text", "color": "#ffffff"}, "encoding": {"x": {"datum": 78.82}, "y": {"datum": 12009.65}, "text": {"value": "2/8"}}},
  {"data": {"values": [{}]}, "mark": {"type": "rect", "color": "#00c000"}, "encoding": {"x": {"datum": 100.52}, "x2": {"datum": 103.82}, "y": {"datum": 12015.48}, "y2": {"datum": 12003.23}}},
  {"data": {"values": [{}]}, "mark": {"type": "text", "color": "#1060a0"}, "encoding": {"x": {"datum": 102.17}, "y": {"datum": 12009.65}, "text": {"value": "4"}}}
 ]
},
{
 "width": 621, "height": 306,
 "view": {"fill": "#ffffff", "stroke": null},
 "title": {"text": "TFH1-FUT-NYBOT  5 min  #5 Russell 2000 Mini Futures", "anchor": "start", "dx": 21, "dy": 10, "offset": 9, "baseline": "alphabetic", "fontSize": 12, "fontWeight": "bold", "color": "#dcdcdc"},
 "layer": [
  {"data": {"name": "hours"}, "transform": [{"filter": "datum.i < 90"}],
   "mark": {"type": "rule", "color": "#ff8040", "strokeDash": [3, 3], "strokeWidth": 1, "xOffset": 0.5},
   "encoding": {
    "x": {"field": "i", "type": "quantitative", "scale": {"domain": [-18.2, 106.0], "nice": false, "zero": false},
          "axis": {"orient": "bottom", "offset": -25, "title": null, "labelFlush": 14, "labelOverlap": false,
                   "values": [-16, 0, 8, 17, 26, 35, 44, 53, 62, 71, 79, 87],
                   "labelExpr": "['0:45','','16:10','16:55','17:40','18:25','19:10','19:55','20:40','21:25','','16:10'][indexof([-16,0,8,17,26,35,44,53,62,71,79,87], datum.value)]"}},
    "y": {"datum": 814.04, "type": "quantitative", "scale": {"domain": [792.75, 815.27], "nice": false, "zero": false},
          "axis": {"orient": "right", "offset": -47.6, "title": null, "format": "d", "labelOverlap": false, "values": [796, 798, 800, 802, 804, 806, 808, 810, 812, 814]}},
    "y2": {"datum": 794.59}}},
  {"data": {"name": "br"}, "mark": {"type": "rule", "strokeWidth": 1, "xOffset": -0.5},
   "encoding": {"x": {"field": "i", "type": "quantitative"}, "y": {"field": "l", "type": "quantitative"}, "y2": {"field": "h"},
    "color": {"condition": {"test": "datum.c < datum.o", "value": "#ff8040"}, "value": "#008080"}}},
  {"data": {"name": "br"}, "mark": {"type": "bar", "size": 3, "stroke": "#000000", "strokeWidth": 1},
   "encoding": {"x": {"field": "i", "type": "quantitative"}, "y": {"field": "o", "type": "quantitative"}, "y2": {"field": "c"},
    "fill": {"condition": {"test": "datum.c < datum.o", "value": "#ff0000"}, "value": "#ffffff"}}},
  {"data": {"name": "lv_br"}, "mark": {"type": "rule", "color": "#00ff00", "strokeWidth": 3},
   "encoding": {"x": {"field": "a", "type": "quantitative"}, "x2": {"field": "b"}, "y": {"field": "p", "type": "quantitative"}}},
  {"data": {"values": [{}]}, "mark": {"type": "rule", "color": "#008080"}, "encoding": {"x": {"datum": 96.48}, "y": {"datum": 794.59}, "y2": {"datum": 815.27}}},
  {"data": {"values": [{}]}, "mark": {"type": "rule", "color": "#008080"}, "encoding": {"x": {"datum": -17.4}, "x2": {"datum": 96.48}, "y": {"datum": 794.59}}},
  {"data": {"values": [{}]}, "mark": {"type": "rule", "color": "#008080"}, "encoding": {"x": {"datum": -17.4}, "y": {"datum": 794.59}, "y2": {"datum": 815.27}}},
  {"data": {"values": [{}]}, "mark": {"type": "text", "align": "left", "color": "#008080"}, "encoding": {"x": {"datum": -16.0}, "y": {"datum": 814.66}, "text": {"value": "TFH1-FUT-NYBOT"}}},
  {"data": {"values": [{}]}, "mark": {"type": "text", "align": "left", "color": "#008080"}, "encoding": {"x": {"datum": 8.58}, "y": {"datum": 814.66}, "text": {"value": "5 min"}}},
  {"data": {"values": [{}]}, "mark": {"type": "text", "align": "left", "color": "#008080"}, "encoding": {"x": {"datum": 17.92}, "y": {"datum": 814.66}, "text": {"value": "#5 C:807 T:47"}}},
  {"data": {"values": [{}]}, "mark": {"type": "text", "align": "left", "color": "#00c000"}, "encoding": {"x": {"datum": 36.68}, "y": {"datum": 814.66}, "text": {"value": "Chg:0 DChg:9"}}},
  {"data": {"values": [{}]}, "mark": {"type": "text", "align": "left", "color": "#008080"}, "encoding": {"x": {"datum": 55.06}, "y": {"datum": 814.66}, "text": {"value": "2011-02-07 20:51:13 H:808 L:80"}}},
  {"data": {"values": [{}]}, "mark": {"type": "rect", "color": "#007373"}, "encoding": {"x": {"datum": 97.36}, "x2": {"datum": 102.16}, "y": {"datum": 808.04}, "y2": {"datum": 806.68}}},
  {"data": {"values": [{}]}, "mark": {"type": "text", "color": "#ffffff"}, "encoding": {"x": {"datum": 99.76}, "y": {"datum": 807.36}, "text": {"value": "807"}}},
  {"data": {"values": [{}]}, "mark": {"type": "rect", "color": "#007373"}, "encoding": {"x": {"datum": -2.2}, "x2": {"datum": 2.2}, "y": {"datum": 794.3}, "y2": {"datum": 792.75}}},
  {"data": {"values": [{}]}, "mark": {"type": "text", "color": "#ffffff"}, "encoding": {"x": {"datum": 0}, "y": {"datum": 793.56}, "text": {"value": "2/7"}}},
  {"data": {"values": [{}]}, "mark": {"type": "rect", "color": "#007373"}, "encoding": {"x": {"datum": 76.76}, "x2": {"datum": 81.16}, "y": {"datum": 794.3}, "y2": {"datum": 792.75}}},
  {"data": {"values": [{}]}, "mark": {"type": "text", "color": "#ffffff"}, "encoding": {"x": {"datum": 78.96}, "y": {"datum": 793.56}, "text": {"value": "2/8"}}}
 ]
}
]
}
